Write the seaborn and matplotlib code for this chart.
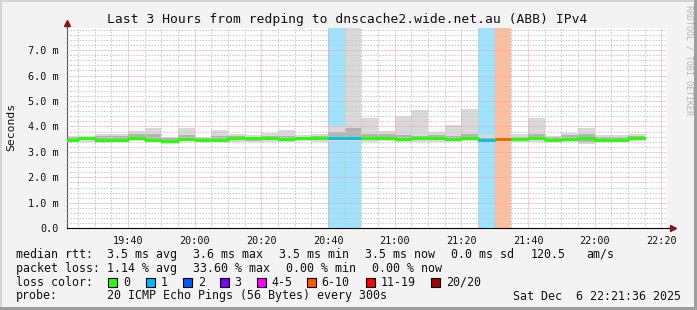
import matplotlib
matplotlib.use("Agg")
import numpy as np
import pandas as pd
import matplotlib.pyplot as plt
import seaborn as sns
from matplotlib.patches import Rectangle
from matplotlib.ticker import FixedLocator, MultipleLocator

# ---------------- data (values in milliseconds) ----------------
bar_start = ["19:20", "19:25", "19:30", "19:35", "19:40", "19:45", "19:50", "19:55",
             "20:00", "20:05", "20:10", "20:15", "20:20", "20:25", "20:30", "20:35",
             "20:40", "20:45", "20:50", "20:55", "21:00", "21:05", "21:10", "21:15",
             "21:20", "21:25", "21:30", "21:35", "21:40", "21:45", "21:50", "21:55",
             "22:00", "22:05", "22:10"]
median_ms = [3.45, 3.55, 3.45, 3.45, 3.55, 3.47, 3.42, 3.52,
             3.47, 3.47, 3.53, 3.53, 3.53, 3.50, 3.53, 3.53,
             3.56, 3.56, 3.56, 3.56, 3.52, 3.56, 3.56, 3.50,
             3.56, 3.45, 3.52, 3.52, 3.56, 3.47, 3.52, 3.53,
             3.47, 3.47, 3.56]
smoke_min = [3.40, 3.40, 3.36, 3.38, 3.42, 3.40, 3.33, 3.42,
             3.40, 3.40, 3.40, 3.38, 3.40, 3.40, 3.42, 3.40,
             3.42, 3.42, 3.40, 3.42, 3.38, 3.40, 3.40, 3.38,
             3.42, 3.38, 3.52, 3.40, 3.40, 3.38, 3.38, 3.33,
             3.40, 3.40, 3.42]
smoke_max = [3.62, 3.62, 3.69, 3.69, 3.83, 3.95, 3.60, 3.95,
             3.60, 3.85, 3.69, 3.66, 3.75, 3.85, 3.66, 3.69,
             4.02, 9.00, 4.32, 3.83, 4.42, 4.64, 3.79, 4.06,
             4.68, 3.66, 3.52, 3.72, 4.34, 3.64, 3.75, 3.95,
             3.66, 3.66, 3.69]
mid_lo = [3.42, 3.47, 3.40, 3.40, 3.47, 3.43, 3.37, 3.46,
          3.43, 3.43, 3.46, 3.44, 3.46, 3.44, 3.47, 3.45,
          3.48, 3.48, 3.47, 3.48, 3.44, 3.47, 3.47, 3.43,
          3.48, 3.42, 3.52, 3.46, 3.47, 3.42, 3.44, 3.40,
          3.43, 3.43, 3.48]
mid_hi = [3.58, 3.60, 3.62, 3.62, 3.72, 3.70, 3.55, 3.68,
          3.55, 3.62, 3.64, 3.60, 3.62, 3.62, 3.60, 3.62,
          3.80, 3.93, 3.72, 3.70, 3.65, 3.62, 3.65, 3.62,
          3.72, 3.55, 3.52, 3.60, 3.72, 3.58, 3.66, 3.70,
          3.58, 3.60, 3.64]
loss_count = [0, 0, 0, 0, 0, 0, 0, 0,
              0, 0, 0, 0, 0, 0, 0, 0,
              1, 1, 0, 0, 0, 0, 0, 0,
              0, 1, 7, 0, 0, 0, 0, 0,
              0, 0, 0]

loss_labels = ["0", "1", "2", "3", "4-5", "6-10", "11-19", "20/20"]
loss_lower = [0, 1, 2, 3, 4, 6, 11, 20]
loss_colors = ["#26ff00", "#00b8ff", "#0059ff", "#7e00ff", "#ff00ff",
               "#ff5500", "#ff0000", "#a10000"]

x_ticks = ["19:40", "20:00", "20:20", "20:40", "21:00", "21:20", "21:40", "22:00", "22:20"]
y_ticks = [0, 1, 2, 3, 4, 5, 6, 7]

title = "Last 3 Hours from redping to dnscache2.wide.net.au (ABB) IPv4"
legend_lines = [
    [(16, "median rtt:"), (107, "3.5 ms avg"), (193, "3.6 ms max"), (279, "3.5 ms min"),
     (365, "3.5 ms now"), (451, "0.0 ms sd"), (530.5, "120.5"), (586, "am/s")],
    [(16, "packet loss:"), (107, "1.14 % avg"), (193, "33.60 % max"), (286, "0.00 % min"),
     (372, "0.00 % now")],
    [(16, "loss color:")],
    [(16, "probe:"), (107, "20 ICMP Echo Pings (56 Bytes) every 300s"),
     (513, "Sat Dec  6 22:21:36 2025")],
]
legend_box_x = [108.3, 145.7, 182.7, 219.7, 256.7, 306.7, 366, 430.7]

# ---------------- helpers ----------------
def to_min(s):
    h, m = s.split(":")
    return int(h) * 60 + int(m)

def loss_color(n):
    idx = 0
    for i, lo in enumerate(loss_lower):
        if n >= lo:
            idx = i
    return loss_colors[idx]

W, H = 697, 310
sns.set_style("white")
plt.rcParams["font.family"] = ["DejaVu Sans Mono", "DejaVu Sans"]

fig = plt.figure(figsize=(W / 100, H / 100), dpi=100)
fig.patch.set_facecolor("#f3f3f3")

ax_left, ax_top, ax_w, ax_bot = 66.7, 27.7, 600.0, 228.3
ax = fig.add_axes([ax_left / W, (H - ax_bot) / H, ax_w / W, (ax_bot - ax_top) / H])
ax.set_facecolor("white")

df = pd.DataFrame({
    "start": [to_min(s) for s in bar_start],
    "median": median_ms, "lo": smoke_min, "hi": smoke_max,
    "mlo": mid_lo, "mhi": mid_hi, "loss": loss_count,
})
df["color"] = [loss_color(n) for n in df["loss"]]

x0 = to_min("19:21") + 0.6
x1 = to_min("22:21") + 0.6
ymax = 7.88

# loss background
lossdf = df[df["loss"] > 0]
ax.bar(lossdf["start"], ymax, bottom=0, width=5, align="edge",
       color=lossdf["color"], alpha=0.376, linewidth=0, zorder=1)
# smoke
ax.bar(df["start"], df["hi"] - df["lo"], bottom=df["lo"], width=5, align="edge",
       color="#d9d9d9", linewidth=0, zorder=1.2)
ax.bar(df["start"], df["mhi"] - df["mlo"], bottom=df["mlo"], width=5, align="edge",
       color="#b4b4b4", linewidth=0, zorder=1.3)

# median step line
step = pd.DataFrame({"x": list(df["start"]) + [df["start"].iloc[-1] + 5],
                     "y": list(df["median"]) + [df["median"].iloc[-1]]})
sns.lineplot(data=step, x="x", y="y", ax=ax, drawstyle="steps-post",
             color=loss_colors[0], linewidth=1.8, estimator=None, zorder=3)
ax.hlines(df["median"], df["start"], df["start"] + 5, colors=df["color"],
          linewidth=1.8, zorder=3.1)

ax.set_xlim(x0, x1)
ax.set_ylim(0, ymax)

ax.xaxis.set_major_locator(FixedLocator([to_min(t) for t in x_ticks]))
ax.set_xticklabels(x_ticks)
ax.xaxis.set_minor_locator(MultipleLocator(5))
ax.yaxis.set_major_locator(FixedLocator(y_ticks))
ax.set_yticklabels(["0.0" if v == 0 else f"{v:.1f} m" for v in y_ticks])
ax.yaxis.set_minor_locator(MultipleLocator(0.2))

ax.set_axisbelow(False)
ax.grid(which="minor", color="#c8c8c8", linestyle=(0, (1.5, 1.5)), linewidth=0.72)
ax.grid(which="major", color="#f2a0a0", linestyle=(0, (1, 1)), linewidth=0.72)

ax.tick_params(axis="both", which="both", direction="out", color="#444444",
               width=0.6, labelsize=7.3, labelcolor="#111111")
ax.tick_params(axis="both", which="major", length=2.5)
ax.tick_params(axis="both", which="minor", length=1.5)
ax.tick_params(axis="x", pad=3.2)
ax.tick_params(axis="y", pad=3.5)

for s in ["top", "right"]:
    ax.spines[s].set_visible(False)
ax.spines["left"].set_color("#555555")
ax.spines["bottom"].set_color("#000000")
ax.spines["left"].set_linewidth(0.8)
ax.spines["bottom"].set_linewidth(0.8)

# axis arrows
ax.plot([1.0, 1.009], [0, 0], color="#000000", lw=0.8, transform=ax.transAxes, clip_on=False)
ax.plot([1.011], [0], marker=">", ms=4, color="#8b1010", transform=ax.transAxes, clip_on=False)
ax.plot([0, 0], [1.0, 1.02], color="#555555", lw=0.8, transform=ax.transAxes, clip_on=False)
ax.plot([0], [1.025], marker="^", ms=4, color="#8b1010", transform=ax.transAxes, clip_on=False)

ax.set_xlabel("")
ax.set_ylabel("")
fig.text(11 / W, 1 - 127 / H, "Seconds", rotation=90, ha="center", va="center",
         fontsize=8.2, color="#111111")

# title
fig.text(347.5 / W, 1 - 19.3 / H, title, ha="center", va="center", fontsize=9.4,
         color="#111111")
# watermark
fig.text(689 / W, 1 - 60 / H, "RRDTOOL / TOBI OETIKER", rotation=270, ha="center",
         va="center", fontsize=6.0, color="#b4b4b4")

# legend text
line_y = [254.3, 268.3, 282.0, 296.0]
for yy, parts in zip(line_y, legend_lines):
    for xx, txt in parts:
        fig.text(xx / W, 1 - yy / H, txt, ha="left", va="center", fontsize=8.4,
                 color="#111111")
for bx, lab, col in zip(legend_box_x, loss_labels, loss_colors):
    fig.add_artist(Rectangle((bx / W, 1 - 286.7 / H), 9 / W, 9 / H,
                             transform=fig.transFigure, facecolor=col,
                             edgecolor="#000000", linewidth=0.8))
    fig.text((bx + 15) / W, 1 - 282.0 / H, lab, ha="left", va="center",
             fontsize=8.4, color="#111111")

# frame
fig.add_artist(Rectangle((0, 1 - 2 / H), 1, 2 / H, transform=fig.transFigure,
                         facecolor="#d4d4d4", edgecolor="none"))
fig.add_artist(Rectangle((0, 0), 2 / W, 1, transform=fig.transFigure,
                         facecolor="#d4d4d4", edgecolor="none"))
fig.add_artist(Rectangle((0, 0), 1, 3 / H, transform=fig.transFigure,
                         facecolor="#9e9e9e", edgecolor="none"))
fig.add_artist(Rectangle((1 - 3 / W, 0), 3 / W, 1, transform=fig.transFigure,
                         facecolor="#9e9e9e", edgecolor="none"))

fig.savefig("out.png", dpi=100, facecolor=fig.get_facecolor())
